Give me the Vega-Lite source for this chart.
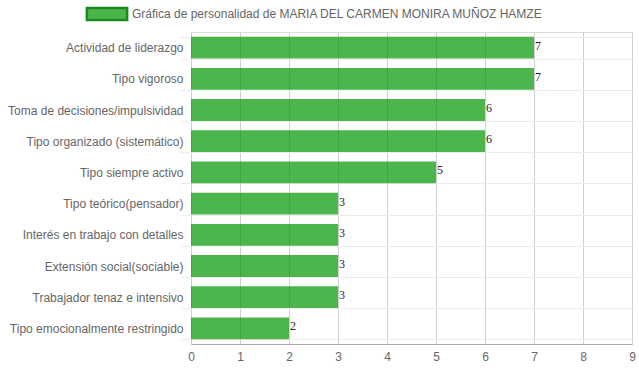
{
  "$schema": "https://vega.github.io/schema/vega-lite/v6.json",
  "autosize": "none",
  "width": 441,
  "height": 312,
  "padding": {"left": 191, "top": 32, "right": 7, "bottom": 28},
  "background": "white",
  "data": {"values": [
    {"rasgo": "Actividad de liderazgo", "valor": 7, "serie": "Gráfica de personalidad de MARIA DEL CARMEN MONIRA MUÑOZ HAMZE"},
    {"rasgo": "Tipo vigoroso", "valor": 7, "serie": "Gráfica de personalidad de MARIA DEL CARMEN MONIRA MUÑOZ HAMZE"},
    {"rasgo": "Toma de decisiones/impulsividad", "valor": 6, "serie": "Gráfica de personalidad de MARIA DEL CARMEN MONIRA MUÑOZ HAMZE"},
    {"rasgo": "Tipo organizado (sistemático)", "valor": 6, "serie": "Gráfica de personalidad de MARIA DEL CARMEN MONIRA MUÑOZ HAMZE"},
    {"rasgo": "Tipo siempre activo", "valor": 5, "serie": "Gráfica de personalidad de MARIA DEL CARMEN MONIRA MUÑOZ HAMZE"},
    {"rasgo": "Tipo teórico(pensador)", "valor": 3, "serie": "Gráfica de personalidad de MARIA DEL CARMEN MONIRA MUÑOZ HAMZE"},
    {"rasgo": "Interés en trabajo con detalles", "valor": 3, "serie": "Gráfica de personalidad de MARIA DEL CARMEN MONIRA MUÑOZ HAMZE"},
    {"rasgo": "Extensión social(sociable)", "valor": 3, "serie": "Gráfica de personalidad de MARIA DEL CARMEN MONIRA MUÑOZ HAMZE"},
    {"rasgo": "Trabajador tenaz e intensivo", "valor": 3, "serie": "Gráfica de personalidad de MARIA DEL CARMEN MONIRA MUÑOZ HAMZE"},
    {"rasgo": "Tipo emocionalmente restringido", "valor": 2, "serie": "Gráfica de personalidad de MARIA DEL CARMEN MONIRA MUÑOZ HAMZE"}
  ]},
  "encoding": {
    "y": {
      "field": "rasgo", "type": "nominal", "sort": null, "title": null,
      "scale": {"paddingInner": 0.3, "paddingOuter": 0.15},
      "axis": {
        "tickBand": "extent", "grid": true, "gridColor": "#ececec", "gridWidth": 1,
        "tickColor": "#ececec", "tickSize": 11, "labelPadding": -3,
        "domain": false, "labelColor": "#666666", "labelFontSize": 12,
        "labelFont": "Liberation Sans", "labelLimit": 200
      }
    },
    "x": {
      "field": "valor", "type": "quantitative", "title": null,
      "scale": {"domain": [0, 9], "nice": false},
      "axis": {
        "values": [0,1,2,3,4,5,6,7,8,9], "grid": true, "gridColor": "#cfcfcf",
        "ticks": false, "labelPadding": 7, "domainColor": "#aaaaaa", "labelFlush": false,
        "labelColor": "#666666", "labelFontSize": 12, "labelFont": "Liberation Sans"
      }
    }
  },
  "layer": [
    {
      "mark": {"type": "bar", "fillOpacity": 0.7},
      "encoding": {
        "color": {
          "field": "serie", "type": "nominal", "title": null,
          "scale": {"range": ["#009500"]},
          "legend": {
            "orient": "none", "legendX": -92, "legendY": -26, "padding": 0,
            "symbolType": "M-3,-0.9H3V0.9H-3Z", "symbolSize": 180,
            "labelOffset": 17,
            "labelColor": "#666666", "labelFontSize": 12, "labelFont": "Liberation Sans",
            "labelLimit": 600,
            "encode": {"symbols": {"update": {
              "stroke": {"value": "#1d8a1d"}, "strokeWidth": {"value": 2.5},
              "fill": {"value": "#009500"}, "fillOpacity": {"value": 0.7}, "opacity": {"value": 1}
            }}}
          }
        }
      }
    },
    {
      "mark": {"type": "text", "align": "left", "baseline": "middle", "dx": 1, "dy": -2, "font": "Liberation Serif", "fontSize": 12, "color": "#222222"},
      "encoding": {"text": {"field": "valor", "type": "quantitative"}}
    }
  ]
}
